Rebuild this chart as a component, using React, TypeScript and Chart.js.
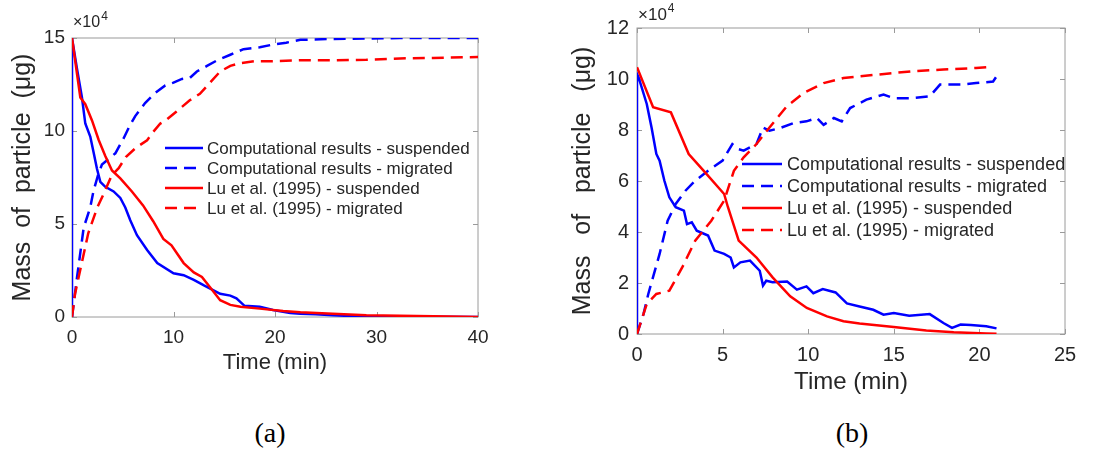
import React, { useEffect, useRef } from 'react';
import { Chart, registerables } from 'chart.js';
Chart.register(...registerables);

// ---------- Data (mass in units of 10^4 µg, time in min) ----------
const legendLabels = [
  'Computational results - suspended',
  'Computational results - migrated',
  'Lu et al. (1995) - suspended',
  'Lu et al. (1995) - migrated',
];

// Panel (a)
const aCompSuspT = [0, 0, 0.49, 0.98, 1.31, 1.8, 2.13, 2.46, 2.79, 3.28, 4.1, 4.76, 5.25, 5.74, 6.4, 7.4, 8.4, 10, 11, 12, 13, 13.9, 14.6, 15.6, 16.2, 17, 18.5, 19.8, 21.5, 22.5, 24, 25.7, 27.4, 29, 32, 36, 40];
const aCompSuspV = [0, 15, 13.35, 11.8, 10.4, 9.7, 8.84, 7.97, 7.27, 7.0, 6.75, 6.4, 5.89, 5.2, 4.4, 3.6, 2.9, 2.35, 2.25, 2.0, 1.7, 1.45, 1.25, 1.15, 1.0, 0.6, 0.55, 0.38, 0.22, 0.18, 0.15, 0.1, 0.05, 0.03, 0.02, 0.01, 0];
const aCompMigT = [0, 0.5, 1.15, 1.8, 2.13, 2.6, 2.95, 3.4, 4.27, 5.08, 5.7, 6.23, 7.2, 8.2, 9.19, 10, 10.83, 11.6, 12.3, 13.3, 14.3, 15.6, 16.9, 18.5, 19.8, 21.1, 22.5, 25.7, 29, 32.3, 40];
const aCompMigV = [0, 2.15, 4.8, 5.9, 6.8, 7.7, 8.2, 8.4, 8.8, 9.6, 10.3, 10.8, 11.5, 12.05, 12.45, 12.6, 12.8, 12.85, 13.2, 13.5, 13.8, 14.1, 14.4, 14.5, 14.65, 14.75, 14.9, 14.95, 14.97, 15, 15];
const aLuSuspT = [0, 0.82, 1.31, 1.97, 2.62, 3.28, 3.94, 4.76, 5.9, 7.0, 8.0, 9.0, 9.8, 11, 12, 12.8, 13.6, 14.6, 15.6, 16.6, 18.5, 20.8, 22.5, 25.7, 29, 32.3, 35.6, 40];
const aLuSuspV = [15, 11.8, 11.44, 10.57, 9.53, 8.66, 7.88, 7.45, 6.75, 6.0, 5.15, 4.2, 3.85, 2.9, 2.4, 2.15, 1.6, 0.9, 0.65, 0.55, 0.45, 0.32, 0.25, 0.18, 0.1, 0.07, 0.04, 0];
const aLuMigT = [0, 0.3, 1.0, 1.6, 2.5, 3.1, 3.9, 4.6, 5.3, 6.3, 7.4, 8.0, 8.7, 9.3, 10.3, 11.6, 12.6, 13.6, 14.6, 15.6, 16.6, 18, 19.5, 22.5, 25.7, 29, 32.3, 35.6, 40];
const aLuMigV = [0, 1.25, 3.0, 4.5, 5.9, 6.6, 7.6, 8.0, 8.6, 9.1, 9.5, 9.95, 10.4, 10.6, 11.05, 11.65, 12.0, 12.6, 13.2, 13.5, 13.65, 13.75, 13.75, 13.8, 13.8, 13.83, 13.9, 13.93, 13.98];

// Panel (b)
const bCompSuspT = [0, 0, 0.09, 0.57, 0.85, 1.13, 1.32, 1.6, 1.89, 2.26, 2.74, 2.92, 3.2, 3.49, 4.15, 4.53, 5.09, 5.47, 5.66, 6.04, 6.6, 7.17, 7.36, 7.55, 7.92, 8.77, 9.34, 9.9, 10.3, 10.85, 11.6, 12.26, 13.0, 13.8, 14.4, 15, 15.9, 17.1, 17.9, 18.4, 18.9, 19.5, 20.4, 21.0];
const bCompSuspV = [0, 10.2, 10.07, 9.02, 8.1, 7.06, 6.8, 6.01, 5.36, 4.97, 4.84, 4.31, 4.38, 4.05, 3.86, 3.27, 3.14, 3.0, 2.61, 2.81, 2.88, 2.48, 1.9, 2.09, 2.03, 2.06, 1.74, 1.87, 1.6, 1.76, 1.63, 1.2, 1.08, 0.95, 0.76, 0.82, 0.72, 0.78, 0.43, 0.24, 0.37, 0.35, 0.3, 0.22];
const bCompMigT = [0, 0.38, 0.66, 1.32, 1.79, 2.26, 2.83, 3.4, 4.15, 5.0, 5.57, 5.94, 6.23, 6.98, 7.36, 7.74, 8.37, 9.14, 9.9, 10.5, 10.9, 11.5, 11.96, 12.45, 13.4, 14.4, 15, 16.1, 17.1, 17.7, 18.9, 19.8, 20.8, 21.0];
const bCompMigV = [0, 0.78, 1.57, 3.14, 4.44, 5.1, 5.62, 6.01, 6.4, 6.8, 7.45, 7.25, 7.19, 7.45, 8.1, 7.97, 8.08, 8.27, 8.34, 8.47, 8.2, 8.47, 8.34, 8.86, 9.19, 9.39, 9.25, 9.25, 9.32, 9.78, 9.78, 9.84, 9.9, 10.1];
const bLuSuspT = [0, 0.94, 1.98, 3.02, 3.9, 5.09, 5.3, 5.94, 6.98, 7.92, 8.95, 9.92, 11.1, 12.06, 13.0, 15, 16.9, 18.5, 20.4, 21];
const bLuSuspV = [10.46, 8.89, 8.69, 7.06, 6.4, 5.49, 5.0, 3.66, 3.0, 2.22, 1.48, 1.02, 0.69, 0.5, 0.41, 0.27, 0.14, 0.07, 0.02, 0.01];
const bLuMigT = [0, 0.57, 1.13, 1.89, 2.64, 3.4, 4.34, 5.09, 5.66, 6.23, 6.98, 7.74, 8.75, 9.73, 10.9, 12.06, 14.0, 16, 17.9, 19.8, 20.4];
const bLuMigV = [0, 1.18, 1.57, 1.7, 2.61, 3.66, 4.44, 5.23, 6.4, 6.93, 7.45, 8.1, 8.93, 9.45, 9.84, 10.04, 10.17, 10.3, 10.37, 10.43, 10.46];

// ---------- Styles ----------
const FONT = '"Liberation Sans", Arial, Helvetica, sans-serif';
const TEXT = '#262626';
const BLUE = '#0000ff';
const RED = '#ff0000';
const DASH = [12, 7];

const zip = (t: number[], v: number[]) => t.map((x, i) => ({ x, y: v[i] }));

type PanelSpec = {
  left: number; top: number; width: number; height: number;
  padTop: number; padRight: number; yWidth: number; xHeight: number;
  xMax: number; xStep: number; yMax: number; yStep: number;
  tickSize: number; tickPadX: number; tickPadY: number;
  xTitleSize: number; xTitlePadBottom: number;
  yTitle: string; yTitleSize: number; yTitlePadTop: number;
  exp: { x: number; y: number; size: number };
  legend: { x: number; y: number; dy: number; len: number; gap: number; size: number };
  series: { t: number[]; v: number[] }[];
};

function Panel({ spec }: { spec: PanelSpec }) {
  const ref = useRef<HTMLCanvasElement | null>(null);
  useEffect(() => {
    if (!ref.current) return;
    const colors = [BLUE, BLUE, RED, RED];
    const dashes = [[], DASH, [], DASH];
    const datasets = spec.series.map((s, i) => ({
      label: legendLabels[i],
      data: zip(s.t, s.v),
      borderColor: colors[i],
      backgroundColor: colors[i],
      borderDash: dashes[i],
      borderWidth: 2.5,
      pointRadius: 0,
      tension: 0,
      fill: false,
      order: 4 - i,
    }));

    const framePlugin = {
      id: 'frame',
      beforeDatasetsDraw(chart: any) {
        const { ctx, chartArea } = chart;
        const { left, right, top, bottom } = chartArea;
        const xs = chart.scales.x;
        const ys = chart.scales.y;
        ctx.save();
        ctx.strokeStyle = '#9a9a9a';
        ctx.lineWidth = 1;
        ctx.strokeRect(left, top, right - left, bottom - top);
        const tl = 5;
        ctx.beginPath();
        xs.ticks.forEach((tk: any) => {
          const px = Math.round(xs.getPixelForValue(tk.value)) + 0.5;
          ctx.moveTo(px, bottom); ctx.lineTo(px, bottom - tl);
          ctx.moveTo(px, top); ctx.lineTo(px, top + tl);
        });
        ys.ticks.forEach((tk: any) => {
          const py = Math.round(ys.getPixelForValue(tk.value)) + 0.5;
          ctx.moveTo(left, py); ctx.lineTo(left + tl, py);
          ctx.moveTo(right, py); ctx.lineTo(right - tl, py);
        });
        ctx.stroke();
        ctx.restore();
      },
    };

    const overlayPlugin = {
      id: 'overlay',
      afterDraw(chart: any) {
        const ctx = chart.ctx;
        ctx.save();
        const e = spec.exp;
        ctx.fillStyle = TEXT;
        ctx.textBaseline = 'middle';
        ctx.textAlign = 'left';
        ctx.font = `${e.size}px ${FONT}`;
        ctx.fillText('×10', e.x, e.y);
        const w = ctx.measureText('×10').width;
        ctx.font = `${Math.round(e.size * 0.72)}px ${FONT}`;
        ctx.fillText('4', e.x + w + 1, e.y - e.size * 0.4);
        const L = spec.legend;
        chart.data.datasets.forEach((ds: any, i: number) => {
          const y = L.y + i * L.dy;
          ctx.strokeStyle = ds.borderColor;
          ctx.lineWidth = 2.5;
          ctx.setLineDash(ds.borderDash || []);
          ctx.beginPath();
          ctx.moveTo(L.x, y);
          ctx.lineTo(L.x + L.len, y);
          ctx.stroke();
          ctx.setLineDash([]);
          ctx.fillStyle = TEXT;
          ctx.font = `${L.size}px ${FONT}`;
          ctx.textBaseline = 'middle';
          ctx.fillText(ds.label, L.x + L.len + L.gap, y + 1);
        });
        ctx.restore();
      },
    };

    const chart = new Chart(ref.current, {
      type: 'line',
      data: { datasets: datasets as any },
      options: {
        animation: false,
        responsive: false,
        devicePixelRatio: 1,
        layout: { padding: { left: 0, top: spec.padTop, right: spec.padRight, bottom: 0 } },
        plugins: { legend: { display: false }, tooltip: { enabled: false } },
        scales: {
          x: {
            type: 'linear',
            min: 0,
            max: spec.xMax,
            grid: { display: false, drawTicks: false },
            border: { display: false },
            ticks: {
              stepSize: spec.xStep,
              padding: spec.tickPadX,
              color: TEXT,
              font: { family: FONT, size: spec.tickSize },
              maxRotation: 0,
            },
            title: {
              display: true,
              text: 'Time (min)',
              color: TEXT,
              font: { family: FONT, size: spec.xTitleSize },
              padding: { top: 0, bottom: spec.xTitlePadBottom },
            },
            afterFit: (s: any) => { s.height = spec.xHeight; },
          },
          y: {
            type: 'linear',
            min: 0,
            max: spec.yMax,
            grid: { display: false, drawTicks: false },
            border: { display: false },
            ticks: {
              stepSize: spec.yStep,
              padding: spec.tickPadY,
              color: TEXT,
              font: { family: FONT, size: spec.tickSize },
            },
            title: {
              display: true,
              text: spec.yTitle,
              color: TEXT,
              font: { family: FONT, size: spec.yTitleSize },
              padding: { top: spec.yTitlePadTop, bottom: 0 },
            },
            afterFit: (s: any) => { s.width = spec.yWidth; },
          },
        },
      } as any,
      plugins: [framePlugin, overlayPlugin],
    });
    return () => chart.destroy();
  }, [spec]);

  return (
    <div style={{ position: 'absolute', left: spec.left, top: spec.top, width: spec.width, height: spec.height }}>
      <canvas ref={ref} width={spec.width} height={spec.height} style={{ width: spec.width, height: spec.height, display: 'block' }} />
    </div>
  );
}

const specA: PanelSpec = {
  left: 0, top: 0, width: 500, height: 380,
  padTop: 38, padRight: 22, yWidth: 72, xHeight: 63,
  xMax: 40, xStep: 10, yMax: 15, yStep: 5,
  tickSize: 19, tickPadX: 9, tickPadY: 7,
  xTitleSize: 22, xTitlePadBottom: 4,
  yTitle: 'Mass  of  particle  (μg)', yTitleSize: 25, yTitlePadTop: 8,
  exp: { x: 73, y: 23, size: 16 },
  legend: { x: 165, y: 148, dy: 20, len: 38, gap: 4, size: 17 },
  series: [
    { t: aCompSuspT, v: aCompSuspV },
    { t: aCompMigT, v: aCompMigV },
    { t: aLuSuspT, v: aLuSuspV },
    { t: aLuMigT, v: aLuMigV },
  ],
};

const specB: PanelSpec = {
  left: 560, top: 0, width: 543, height: 400,
  padTop: 28, padRight: 38, yWidth: 77, xHeight: 66,
  xMax: 25, xStep: 5, yMax: 12, yStep: 2,
  tickSize: 20, tickPadX: 9, tickPadY: 8,
  xTitleSize: 24, xTitlePadBottom: 3,
  yTitle: 'Mass   of   particle   (μg)', yTitleSize: 25, yTitlePadTop: 8,
  exp: { x: 78, y: 15, size: 17 },
  legend: { x: 182, y: 164, dy: 22, len: 40, gap: 5, size: 18 },
  series: [
    { t: bCompSuspT, v: bCompSuspV },
    { t: bCompMigT, v: bCompMigV },
    { t: bLuSuspT, v: bLuSuspV },
    { t: bLuMigT, v: bLuMigV },
  ],
};

const captionStyle = (x: number, y: number): React.CSSProperties => ({
  position: 'absolute',
  left: x,
  top: y,
  transform: 'translate(-50%, -50%)',
  fontFamily: '"Liberation Serif", "Times New Roman", serif',
  fontSize: 28,
  lineHeight: 1,
  color: '#000',
  whiteSpace: 'nowrap',
});

export default function App() {
  return (
    <div style={{ position: 'absolute', left: 0, top: 0, width: 1103, height: 454, background: '#fff', overflow: 'hidden' }}>
      <Panel spec={specA} />
      <Panel spec={specB} />
      <div style={captionStyle(270, 433)}>(a)</div>
      <div style={captionStyle(852, 433)}>(b)</div>
    </div>
  );
}
